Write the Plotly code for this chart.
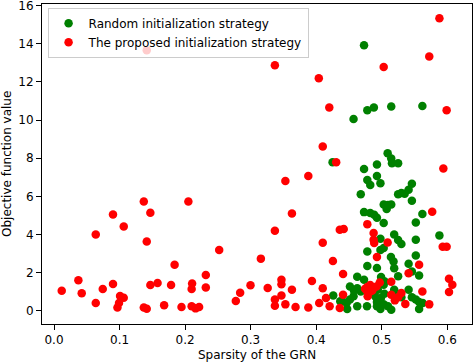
import plotly.graph_objects as go

# Random initialization strategy (green)
green_x = [0.473, 0.457, 0.478, 0.488, 0.5145, 0.562, 0.425, 0.509, 0.5145, 0.5156,
           0.525, 0.4927, 0.473, 0.4927, 0.478, 0.4825, 0.498, 0.546, 0.541, 0.468,
           0.525, 0.530, 0.535, 0.546, 0.503, 0.5095, 0.5145, 0.5075, 0.473, 0.4825,
           0.4885, 0.4927, 0.562, 0.552, 0.503, 0.588, 0.519, 0.525, 0.530, 0.498,
           0.503, 0.498, 0.552, 0.478, 0.514, 0.518, 0.552, 0.478, 0.4927, 0.519,
           0.525, 0.541, 0.546, 0.557, 0.4626, 0.473, 0.499, 0.504,
           0.4515, 0.4576, 0.4626, 0.468, 0.457, 0.4515, 0.4464, 0.440, 0.426, 0.4367,
           0.4473, 0.4626, 0.4775, 0.4927, 0.4927, 0.498, 0.503, 0.5095, 0.5145, 0.519,
           0.525, 0.530, 0.541, 0.546, 0.552, 0.557, 0.5625, 0.557, 0.504, 0.4988,
           0.494, 0.503, 0.490]
green_y = [13.92, 10.06, 10.52, 10.66, 10.71, 10.74, 7.79, 8.26, 7.98, 7.74,
           7.74, 7.67, 7.43, 7.06, 6.85, 6.59, 6.69, 6.66, 6.34, 6.11,
           6.11, 6.17, 6.13, 5.77, 5.57, 5.54, 5.57, 5.33, 5.17, 5.12,
           5.03, 4.87, 5.07, 4.63, 4.60, 3.95, 4.00, 3.71, 3.50, 3.77,
           3.29, 3.18, 3.72, 3.11, 2.81, 2.58, 2.90, 2.34, 2.24, 2.22,
           1.80, 2.46, 2.06, 1.85, 1.78, 1.62, 1.77, 1.54,
           1.27, 1.06, 1.17, 1.00, 0.75, 0.58, 0.40, 0.49, 0.80, 0.49,
           0.09, 0.23, 0.23, 0.45, 0.23, 0.09, 0.33, 0.23, 0.05, 1.10,
           0.87, 0.70, 1.10, 0.70, 0.58, 0.45, 0.40, 0.09, 0.89, 0.66,
           1.10, 1.36, 0.75]

# The proposed initialization strategy (red)
red_x = [0.1415, 0.588, 0.5725, 0.337, 0.503, 0.404, 0.420, 0.599, 0.410, 0.4305,
         0.594, 0.388, 0.353,
         0.137, 0.205, 0.090, 0.147, 0.1064, 0.0637, 0.1415, 0.252, 0.184, 0.0372,
         0.2316, 0.090, 0.147, 0.158, 0.1786, 0.2107, 0.210, 0.2316, 0.0118, 0.0744,
         0.0423, 0.0637, 0.1008, 0.1064, 0.0992, 0.0968, 0.137, 0.1415, 0.168, 0.1945,
         0.210, 0.216, 0.2214,
         0.2774, 0.284, 0.363, 0.337, 0.410, 0.3156, 0.4255, 0.2998, 0.326, 0.347,
         0.347, 0.363, 0.347, 0.337, 0.337, 0.353, 0.3685, 0.388, 0.3935, 0.410,
         0.4046, 0.415, 0.4205, 0.441, 0.436, 0.442,
         0.577, 0.478, 0.4876, 0.4876, 0.4885, 0.509, 0.593, 0.599, 0.4927, 0.557,
         0.541, 0.6026, 0.6077, 0.6026, 0.5145, 0.497,
         0.4746, 0.478, 0.4825, 0.4876, 0.4825, 0.477, 0.492, 0.4856,
         0.5145, 0.525, 0.530, 0.520, 0.562, 0.536, 0.5725, 0.441, 0.436, 0.4785]
red_y = [13.66, 15.34, 13.33, 12.88, 12.79, 12.19, 10.66, 10.52, 8.61, 7.79,
         7.46, 7.06, 6.80,
         5.73, 5.73, 5.05, 5.14, 4.42, 4.00, 3.63, 3.18, 2.41, 1.59,
         1.87, 1.40, 1.35, 1.45, 1.35, 1.42, 1.14, 1.22, 1.05, 1.14,
         0.91, 0.40, 0.77, 0.68, 0.40, 0.16, 0.16, 0.10, 0.28, 0.19,
         0.23, 0.12, 0.19,
         0.51, 0.94, 5.10, 4.19, 3.56, 2.73, 2.60, 1.33, 1.19, 1.62,
         1.38, 1.10, 0.79, 0.58, 0.26, 0.33, 0.19, 0.16, 1.56, 1.17,
         0.40, 0.66, 0.23, 1.92, 4.25, 4.28,
         5.19, 4.54, 4.07, 3.72, 3.55, 3.58, 3.35, 3.35, 2.81, 2.41,
         1.96, 1.68, 1.36, 0.98, 1.52, 1.48,
         1.15, 1.24, 1.35, 1.19, 1.01, 1.06, 1.27, 1.06,
         0.84, 0.70, 0.93, 0.54, 1.00, 0.35, 0.33, 0.84, 0.14, 0.75]

x_ticks = [0.0, 0.1, 0.2, 0.3, 0.4, 0.5, 0.6]
y_ticks = [0, 2, 4, 6, 8, 10, 12, 14, 16]
x_title = "Sparsity of the GRN"
y_title = "Objective function value"

font = "DejaVu Sans"
fs = 12

fig = go.Figure()
fig.add_trace(go.Scatter(x=green_x, y=green_y, mode="markers",
                         name="Random initialization strategy",
                         marker=dict(color="#008000", size=8.5, line=dict(width=0))))
fig.add_trace(go.Scatter(x=red_x, y=red_y, mode="markers",
                         name="The proposed initialization strategy",
                         marker=dict(color="#ff0000", size=8.5, line=dict(width=0))))

axis_common = dict(showgrid=False, zeroline=False, showline=True, linecolor="black",
                   linewidth=1, mirror=True, ticks="outside", ticklen=5,
                   tickcolor="black", automargin=False, ticklabeloverflow="allow",
                   tickfont=dict(family=font, size=fs, color="black"))

fig.update_layout(
    width=474, height=362,
    margin=dict(l=42, r=2, t=4, b=38),
    paper_bgcolor="white", plot_bgcolor="white",
    font=dict(family=font, size=fs, color="black"),
    xaxis=dict(range=[-0.0183, 0.6377], tickvals=x_ticks,
               ticktext=[f"{v:.1f}" for v in x_ticks], **axis_common),
    yaxis=dict(range=[-0.70, 16.09], tickvals=y_ticks, **axis_common),
    legend=dict(x=0.013, y=0.988, xanchor="left", yanchor="top",
                bgcolor="rgba(255,255,255,0.8)", bordercolor="#cccccc", borderwidth=1,
                font=dict(family=font, size=fs, color="black"),
                tracegroupgap=0),
    showlegend=True,
    annotations=[
        dict(text=x_title, xref="paper", yref="paper", x=0.5, y=0,
             xanchor="center", yanchor="top", yshift=-22, showarrow=False,
             font=dict(family=font, size=fs, color="black")),
        dict(text=y_title, xref="paper", yref="paper", x=0, y=0.5,
             xanchor="center", yanchor="middle", xshift=-35, textangle=-90,
             showarrow=False, font=dict(family=font, size=fs, color="black")),
    ],
)

fig.write_html(
    "out.html",
    config={"displayModeBar": False},
    post_script="document.body.style.margin='0';document.body.style.overflow='hidden';",
)
